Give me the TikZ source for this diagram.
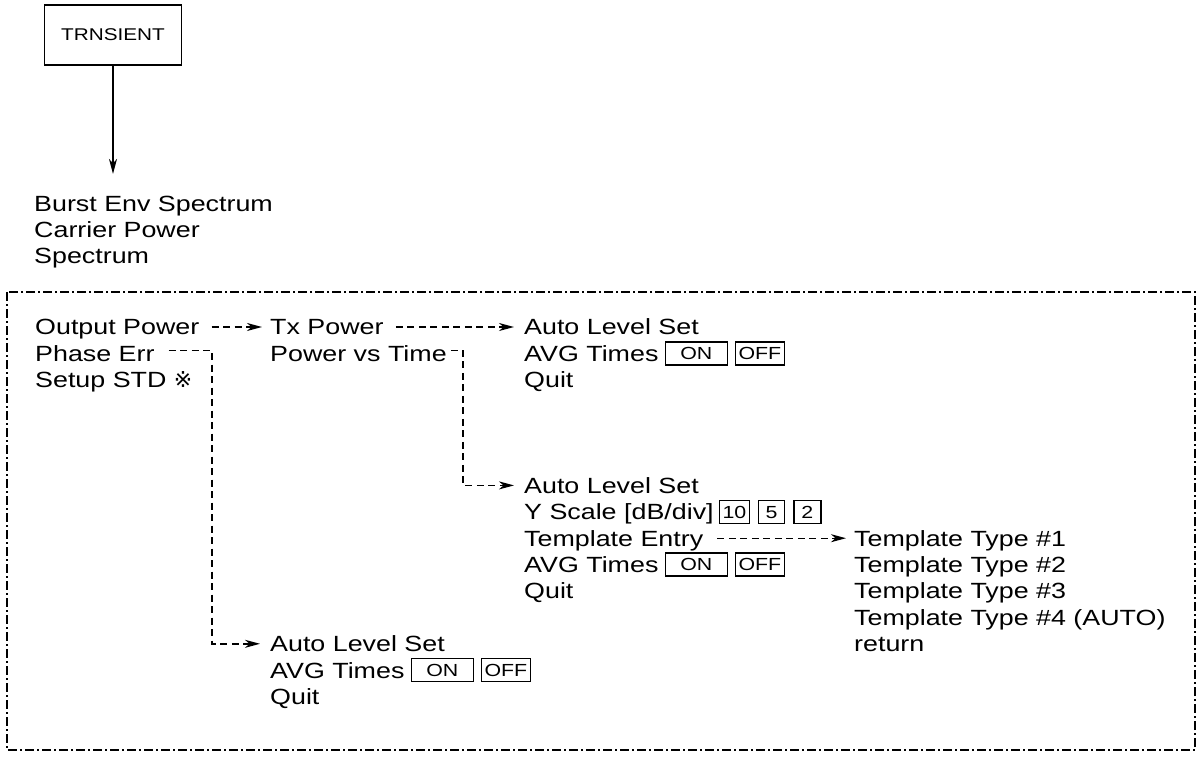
\documentclass[tikz,border=0pt]{standalone}
\usepackage{fontspec}
\setmainfont[FakeStretch=1.22]{Liberation Sans}
\newfontfamily\refmarkfont{DejaVu Sans}
\usetikzlibrary{arrows.meta,positioning}

\tikzset{
  item/.style={anchor=west, inner sep=0pt, text height=15.8pt, text depth=0pt,
    font=\fontsize{22}{26}\selectfont},
  key/.style={draw, line width=1.3pt, inner xsep=3pt, inner ysep=0pt,
    minimum height=23pt, text height=12.5pt, text depth=0pt,
    font=\fontsize{17.5}{18}\selectfont},
  flow/.style={->, line width=1.4pt, dash pattern=on 7pt off 4.5pt},
  frameline/.style={line width=1.4pt, dash pattern=on 9pt off 3pt on 2pt off 3pt}
}

\begin{document}
\begin{tikzpicture}[x=1pt, y=-1pt, >={Stealth[length=15pt, width=8pt, inset=4.5pt]}]
    \useasboundingbox (0,0) rectangle (1198,758);

    % Top key and first menu
    \node[draw, line width=1.3pt, minimum width=137pt, minimum height=60pt,
      font=\fontsize{17}{17}\selectfont] (trans) at (113,35) {TRNSIENT};
    \node[item] (burst) at (34,204) {Burst Env Spectrum};
    \node[item] (carrier) at (34,230) {Carrier Power};
    \node[item] (spectrum) at (34,256) {Spectrum};
    \draw[->, line width=1.4pt, shorten >=22pt] (trans.south) -- (trans.south |- burst.north);

    % Frame
    \draw[frameline] (7,292) rectangle (1195,750);

    % Left column
    \node[item] (outp) at (35,327) {Output Power};
    \node[item] (phase) at (35,353.4) {Phase Err};
    \node[item] (setup) at (35,379.8) {Setup STD {\refmarkfont ※}};

    % Output Power
    \node[item] (tx) at (270,327) {Tx Power};
    \node[item] (pvt) at (270,353.4) {Power vs Time};
    \draw[flow, shorten <=12pt, shorten >=8pt] (outp.east) -- (tx.west);

    % Tx Power
    \node[item] (als1) at (524,327) {Auto Level Set};
    \node[item] (avg1) at (524,353.4) {AVG Times};
    \node[key, minimum width=62pt, right=6pt of avg1] (on1) {ON};
    \node[key, right=7pt of on1] (off1) {OFF};
    \node[item] (quit1) at (524,379.8) {Quit};
    \draw[flow, shorten <=12pt, shorten >=10pt] (tx.east) -- (als1.west);

    % Power vs Time
    \node[item] (als2) at (524,485.4) {Auto Level Set};
    \node[item] (yscale) at (524,511.8) {Y Scale [dB/div]};
    \node[key, minimum width=26pt, right=5pt of yscale] (k10) {10};
    \node[key, minimum width=26pt, right=8pt of k10] (k5) {5};
    \node[key, minimum width=27pt, right=8pt of k5] (k2) {2};
    \node[item] (tentry) at (524,538.2) {Template Entry};
    \node[item] (avg2) at (524,564.6) {AVG Times};
    \node[key, minimum width=62pt, right=6pt of avg2] (on2) {ON};
    \node[key, right=7pt of on2] (off2) {OFF};
    \node[item] (quit2) at (524,591) {Quit};
    \coordinate (pvtx) at (463,0);
    \draw[flow, shorten >=10pt] ([shift={(4pt,3pt)}]pvt.east) -| (pvtx |- als2.west) -- (als2.west);

    % Template Entry
    \node[item] (tt1) at (854,538.2) {Template Type \#1};
    \node[item] (tt2) at (854,564.6) {Template Type \#2};
    \node[item] (tt3) at (854,591) {Template Type \#3};
    \node[item] (tt4) at (854,617.4) {Template Type \#4 (AUTO)};
    \node[item] (ret) at (854,643.8) {return};
    \draw[flow, shorten <=14pt, shorten >=8pt] (tentry.east) -- (tt1.west);

    % Phase Err
    \node[item] (als3) at (270,643.8) {Auto Level Set};
    \node[item] (avg3) at (270,670.2) {AVG Times};
    \node[key, minimum width=62pt, right=6pt of avg3] (on3) {ON};
    \node[key, right=7pt of on3] (off3) {OFF};
    \node[item] (quit3) at (270,696.6) {Quit};
    \coordinate (phasex) at (212,0);
    \draw[flow, shorten >=10pt] ([shift={(14pt,3pt)}]phase.east) -| (phasex |- als3.west) -- (als3.west);
\end{tikzpicture}
\end{document}
